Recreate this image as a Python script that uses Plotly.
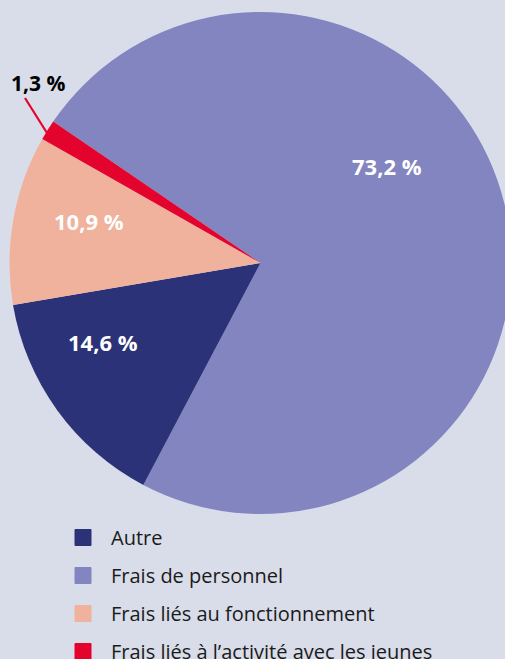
import math
import plotly.graph_objects as go

# ---- data ----
slice_labels = ["Frais de personnel", "Autre", "Frais liés au fonctionnement",
                "Frais liés à l’activité avec les jeunes"]
slice_values = [73.2, 14.6, 10.9, 1.3]
slice_colors = ["#8285c0", "#2b3277", "#f0b29c", "#e4032c"]

legend_labels = ["Autre", "Frais de personnel", "Frais liés au fonctionnement",
                 "Frais liés à l’activité avec les jeunes"]

# paper slightly wider than the 505px window so the pie can bleed past the right edge
W, H = 512, 659
BG = "#d9dce9"
FONT = "Open Sans"

def fmt(v):
    return f"{v:.1f}".replace(".", ",") + "\u00a0%"

fig = go.Figure()

fig.add_trace(go.Pie(
    labels=slice_labels,
    values=slice_values,
    marker=dict(colors=slice_colors, line=dict(width=0)),
    sort=False,
    direction="clockwise",
    rotation=-55.7,
    textinfo="none",
    hoverinfo="label+percent",
    showlegend=False,
    domain=dict(x=[9 / W, 1.0], y=[1 - 514 / H, 1 - 12 / H]),
))

color_of = dict(zip(slice_labels, slice_colors))
for i, lab in enumerate(legend_labels):
    fig.add_trace(go.Scatter(
        x=[None], y=[None], mode="markers", name=lab,
        legendgroup=f"g{i}",
        marker=dict(symbol="square", size=16, color=color_of[lab],
                    line=dict(width=1, color=color_of[lab])),
    ))

def px(x, y):
    return x / W, 1 - y / H

# slice labels (paper pixel positions)
label_pos = {"Frais de personnel": (387, 166), "Autre": (103, 342),
             "Frais liés au fonctionnement": (89, 221)}
for lab, v in zip(slice_labels, slice_values):
    if lab in label_pos:
        xx, yy = px(*label_pos[lab])
        fig.add_annotation(x=xx, y=yy, xref="paper", yref="paper", text=f"<b>{fmt(v)}</b>",
                           xanchor="center", yanchor="middle",
                           showarrow=False, font=dict(family=FONT, size=22, color="white"))

# small slice: outside label with leader line
small = slice_labels[3]
sv = slice_values[3]
x0, y0 = px(47, 133)
x1, y1 = px(25, 98)
fig.add_shape(type="line", xref="paper", yref="paper", x0=x0, y0=y0, x1=x1, y1=y1,
              line=dict(color=color_of[small], width=2.2))
lx, ly = px(38, 83)
fig.add_annotation(x=lx, y=ly, xref="paper", yref="paper", text=f"<b>{fmt(sv)}</b>",
                   xanchor="center", yanchor="middle",
                   showarrow=False, font=dict(family=FONT, size=21, color="black"))

fig.update_layout(
    width=W, height=H,
    margin=dict(l=0, r=0, t=0, b=0, autoexpand=False),
    paper_bgcolor=BG, plot_bgcolor=BG,
    xaxis=dict(visible=False), yaxis=dict(visible=False),
    legend=dict(
        x=55 / W, y=1 - 518 / H, xanchor="left", yanchor="top",
        bgcolor="rgba(0,0,0,0)", font=dict(family=FONT, size=20, color="#1a1a1a"),
        itemwidth=46, traceorder="grouped", tracegroupgap=9,
    ),
)

fig.write_html("out.html", config={"displayModeBar": False},
               post_script="document.body.style.margin='0';document.body.style.overflow='hidden';")
